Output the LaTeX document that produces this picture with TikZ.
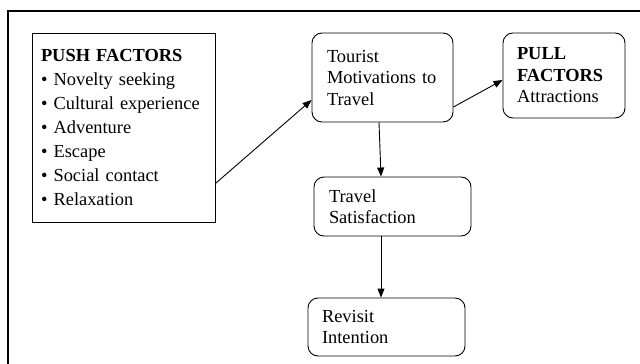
\documentclass[tikz,border=0pt]{standalone}
\usepackage{fontspec}
\setmainfont{Liberation Serif}
\usetikzlibrary{arrows.meta}
\begin{document}
\begin{tikzpicture}[x=1pt,y=-1pt,
  box/.style={draw,line width=0.9pt,align=left,inner ysep=0pt,
    font=\fontsize{18.4}{21.5}\selectfont},
  rbox/.style={box,rounded corners=10pt},
  conn/.style={line width=0.9pt,-{Triangle[length=9pt,width=7pt]}},
  frame/.style={line width=1.4pt}]
\useasboundingbox (0,0) rectangle (640,364);
\draw[frame] (8,364) -- (8,11) -- (640,11);
\node[box,font=\fontsize{18.4}{24}\selectfont,inner xsep=9pt,text width=165pt,minimum height=189pt] (push) at (123.5,127.5)
  {\textbf{PUSH FACTORS}\\
   \textbullet\ Novelty seeking\\
   \textbullet\ Cultural experience\\
   \textbullet\ Adventure\\
   \textbullet\ Escape\\
   \textbullet\ Social contact\\
   \textbullet\ Relaxation};
\node[rbox,inner xsep=15pt,text width=111pt,minimum height=89pt] (tour) at (382.5,77.5)
  {Tourist\\Motivations to\\Travel};
\node[rbox,inner xsep=14pt,text width=94pt,minimum height=85pt] (pull) at (564,75.5)
  {\textbf{PULL}\\\textbf{FACTORS}\\Attractions};
\node[rbox,inner xsep=15pt,text width=127pt,minimum height=59pt] (sat) at (392.5,206.5)
  {Travel\\Satisfaction};
\node[rbox,inner xsep=14pt,text width=129pt,minimum height=58pt] (rev) at (386.5,327)
  {Revisit\\Intention};
\draw[conn] ([yshift=39pt]push.south east) -- ([yshift=-22.5pt]tour.west);
\draw[conn] ([yshift=-29.5pt]tour.east) -- ([yshift=-4.5pt]pull.west);
\draw[conn] ([xshift=-3.5pt]tour.south) -- ([xshift=-11.5pt]sat.north);
\draw[conn] ([xshift=-11.5pt]sat.south) -- ([xshift=-5.5pt]rev.north);
\end{tikzpicture}
\end{document}
